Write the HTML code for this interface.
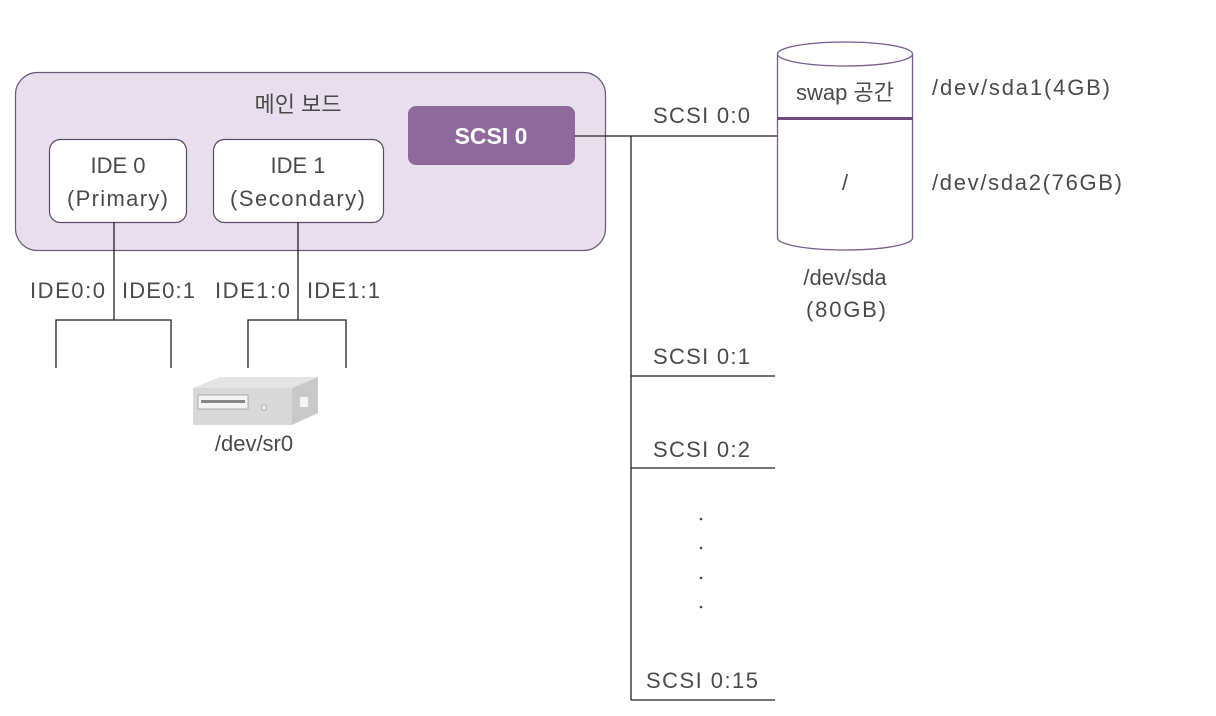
<!DOCTYPE html>
<html><head><meta charset="utf-8"><style>
body{margin:0;background:#fff;}
svg{display:block}
text{font-family:"Liberation Sans","Noto Sans CJK KR",sans-serif;fill:#4a4a4a;font-size:22px;}
</style></head><body>
<svg width="1216" height="716" viewBox="0 0 1216 716">
<rect x="15.5" y="72.5" width="590" height="178" rx="22" fill="#e7dfec" stroke="#6b5a78" stroke-width="1.2"/>
<text x="298" y="112" text-anchor="middle">메인 보드</text>
<rect x="49.5" y="139.5" width="137" height="83" rx="11" fill="#fff" stroke="#5b4a68" stroke-width="1.2"/>
<text x="118" y="173" text-anchor="middle">IDE 0</text>
<text x="67" y="206" textLength="101" lengthAdjust="spacing">(Primary)</text>
<rect x="213.5" y="139.5" width="170" height="83" rx="11" fill="#fff" stroke="#5b4a68" stroke-width="1.2"/>
<text x="298" y="173" text-anchor="middle">IDE 1</text>
<text x="230" y="206" textLength="135" lengthAdjust="spacing">(Secondary)</text>
<rect x="408" y="106" width="167" height="59" rx="8" fill="#8f689c"/>
<text x="491" y="144" text-anchor="middle" style="fill:#fff;font-weight:bold;font-size:23px">SCSI 0</text>
<g stroke="#222" stroke-width="1.3" fill="none">
<path d="M114 222V320M56 368V320H171V368"/>
<path d="M298 222V320M248 368V320H346V368"/>
<path d="M575 136H777M631 136V700M631 376H775M631 468H775M631 700H775"/>
</g>
<text x="30" y="298" textLength="75" lengthAdjust="spacing">IDE0:0</text>
<text x="122" y="298" textLength="73" lengthAdjust="spacing">IDE0:1</text>
<text x="215" y="298" textLength="75" lengthAdjust="spacing">IDE1:0</text>
<text x="307" y="298" textLength="73" lengthAdjust="spacing">IDE1:1</text>
<g>
<polygon points="193,388 220,377 318,377 292,388" fill="#e4e4e4"/>
<polygon points="193,388 292,388 292,425 193,425" fill="#d8d8d8"/>
<polygon points="292,388 318,377 318,413 292,425" fill="#c9c9c9"/>
<rect x="198" y="395" width="50" height="14" fill="#f4f4f4" stroke="#999" stroke-width="0.8"/>
<rect x="201" y="400" width="44" height="3" fill="#888"/>
<rect x="300" y="397" width="8" height="10" fill="#f4f4f4"/>
<rect x="262" y="405" width="4" height="5" fill="#eee" stroke="#999" stroke-width="0.6"/>
</g>
<text x="254" y="451" text-anchor="middle">/dev/sr0</text>
<text x="653" y="123" textLength="97" lengthAdjust="spacing">SCSI 0:0</text>
<text x="653" y="364" textLength="97" lengthAdjust="spacing">SCSI 0:1</text>
<text x="653" y="457" textLength="97" lengthAdjust="spacing">SCSI 0:2</text>
<text x="646" y="688" textLength="112" lengthAdjust="spacing">SCSI 0:15</text>
<g fill="#444"><circle cx="701" cy="519" r="1.3"/><circle cx="701" cy="548" r="1.3"/><circle cx="701" cy="578" r="1.3"/><circle cx="701" cy="607" r="1.3"/></g>
<path d="M777.5 54V238A67.5 12 0 0 0 912.5 238V54" fill="#fff" stroke="#7a5a8c" stroke-width="1.3"/>
<ellipse cx="845" cy="54" rx="67.5" ry="12" fill="#fff" stroke="#7a5a8c" stroke-width="1.3"/>
<line x1="777" y1="118.5" x2="913" y2="118.5" stroke="#6e4a80" stroke-width="3"/>
<text x="845" y="100" text-anchor="middle">swap 공간</text>
<text x="845" y="190" text-anchor="middle">/</text>
<text x="932" y="95" textLength="178" lengthAdjust="spacing">/dev/sda1(4GB)</text>
<text x="932" y="190" textLength="190" lengthAdjust="spacing">/dev/sda2(76GB)</text>
<text x="845" y="285" text-anchor="middle">/dev/sda</text>
<text x="806" y="317" textLength="80" lengthAdjust="spacing">(80GB)</text>
</svg>
</body></html>
